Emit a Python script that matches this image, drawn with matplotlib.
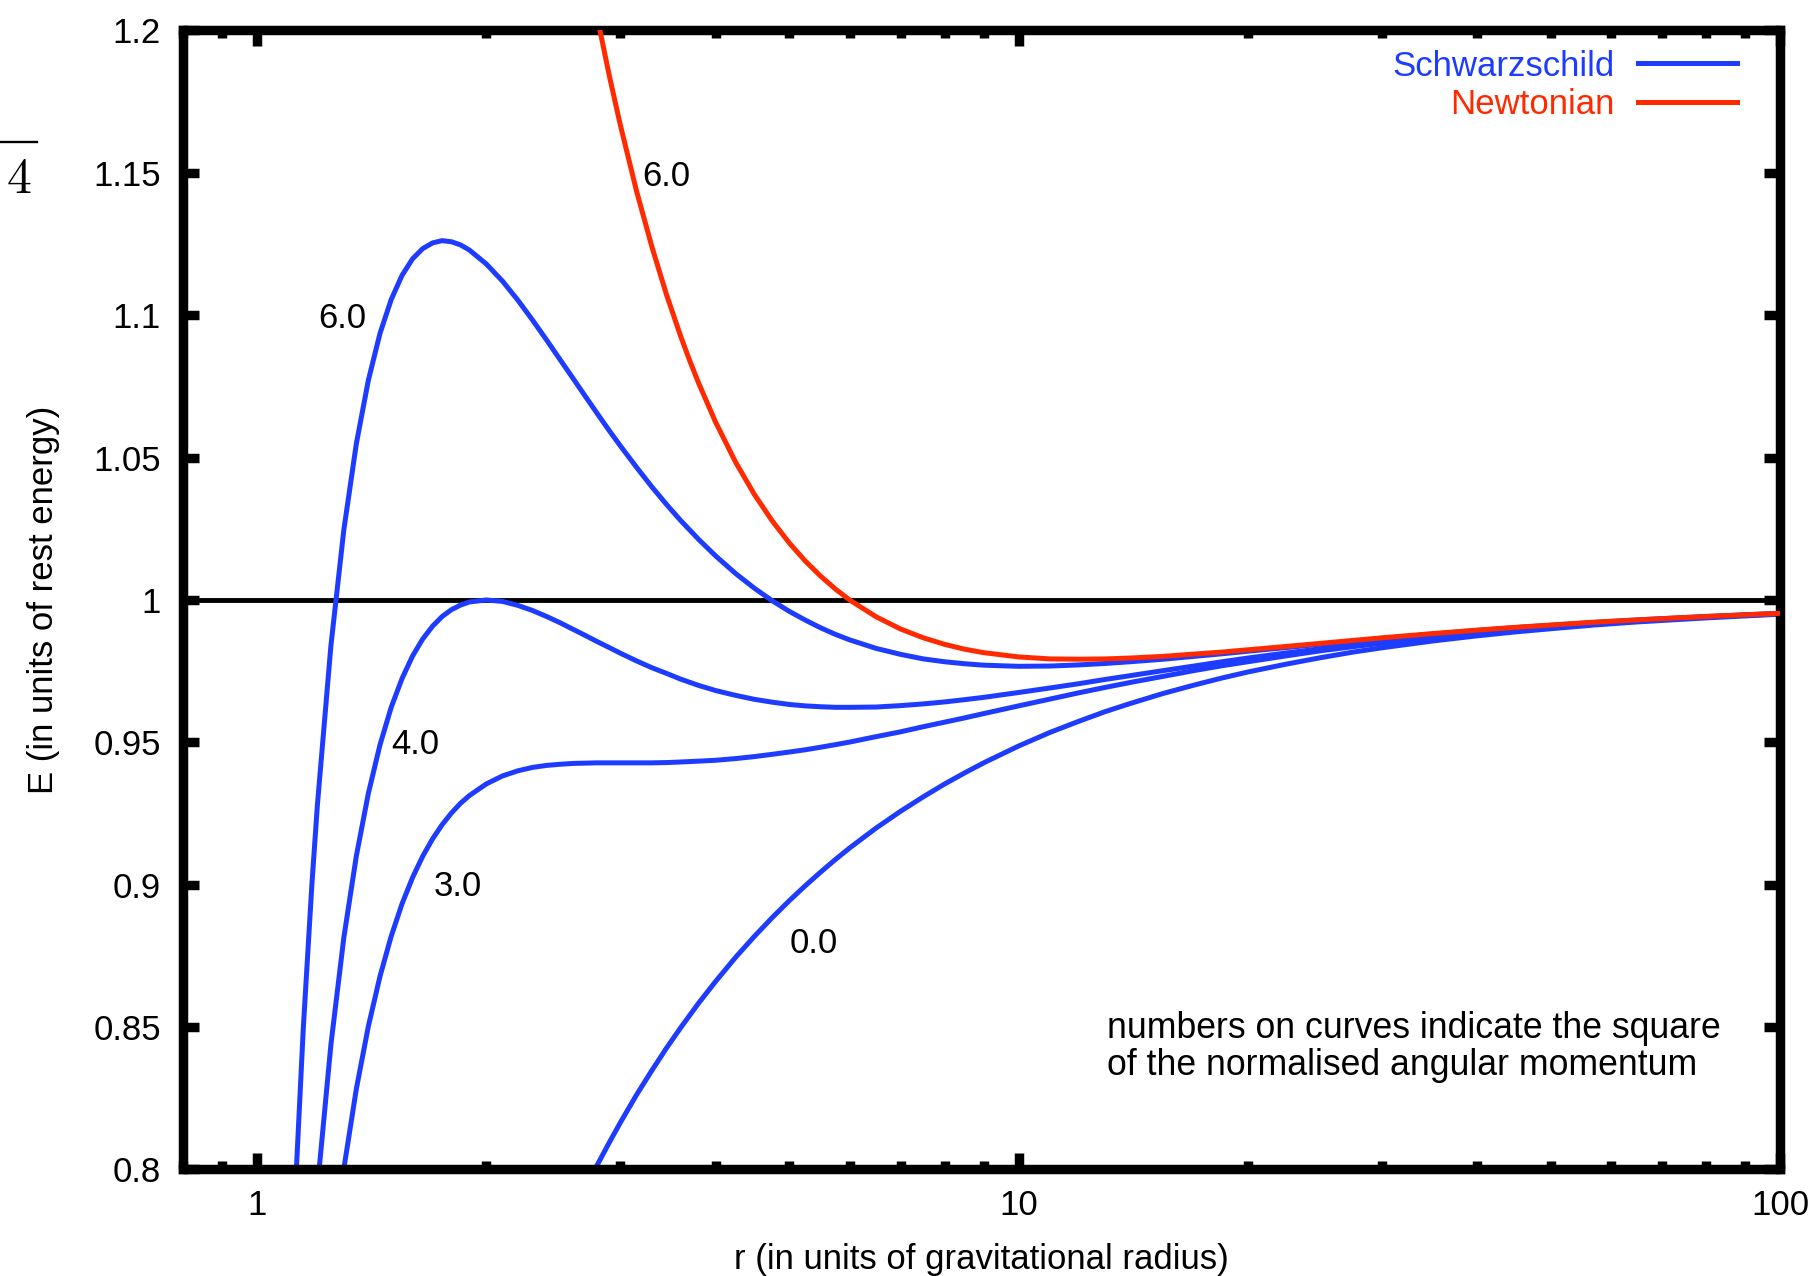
import matplotlib
matplotlib.use("Agg")
import matplotlib.pyplot as plt
from matplotlib.ticker import FixedLocator, LogLocator, NullFormatter, NullLocator, FuncFormatter
from matplotlib.lines import Line2D

plt.rcParams['font.family'] = ['Liberation Sans', 'DejaVu Sans']

# radius (gravitational radius units) and energy
r_schw = [1.1, 1.12, 1.15, 1.18, 1.2,
          1.25, 1.3, 1.35, 1.4, 1.45,
          1.5, 1.55, 1.6, 1.65, 1.7,
          1.75, 1.8, 1.85, 1.9, 2.0,
          2.1, 2.2, 2.3, 2.4, 2.5,
          2.6, 2.7, 2.8, 2.9, 3.0,
          3.15, 3.3, 3.45, 3.6, 3.8,
          4.0, 4.25, 4.5, 4.75, 5.0,
          5.25, 5.5, 5.75, 6.0, 6.5,
          7.0, 7.5, 8.0, 8.5, 9.0,
          10, 11, 12, 13, 14,
          15.5, 17, 18.5, 20, 22.5,
          25, 27.5, 30, 35, 40,
          45, 50, 57, 65, 72,
          80, 90, 100]
E_l6 = [0.7360, 0.7872, 0.8498, 0.8998, 0.9280,
        0.9839, 1.0247, 1.0549, 1.0772, 1.0936,
        1.1055, 1.1140, 1.1198, 1.1234, 1.1254,
        1.1262, 1.1258, 1.1247, 1.1229, 1.1180,
        1.1120, 1.1053, 1.0983, 1.0913, 1.0844,
        1.0778, 1.0714, 1.0653, 1.0595, 1.0541,
        1.0466, 1.0397, 1.0335, 1.0279, 1.0213,
        1.0155, 1.0093, 1.0041, 0.9997, 0.9960,
        0.9929, 0.9902, 0.9879, 0.9860, 0.9830,
        0.9809, 0.9793, 0.9783, 0.9776, 0.9771,
        0.9767, 0.9768, 0.9772, 0.9777, 0.9783,
        0.9792, 0.9802, 0.9811, 0.9820, 0.9833,
        0.9845, 0.9855, 0.9865, 0.9880, 0.9893,
        0.9903, 0.9911, 0.9921, 0.9930, 0.9936,
        0.9942, 0.9948, 0.9953]
E_l4 = [0.6256, 0.6699, 0.7245, 0.7685, 0.7935,
        0.8438, 0.8815, 0.9101, 0.9321, 0.9491,
        0.9623, 0.9724, 0.9803, 0.9863, 0.9908,
        0.9942, 0.9966, 0.9982, 0.9993, 1.0000,
        0.9995, 0.9981, 0.9963, 0.9942, 0.9920,
        0.9897, 0.9875, 0.9853, 0.9833, 0.9813,
        0.9786, 0.9762, 0.9742, 0.9722, 0.9700,
        0.9682, 0.9665, 0.9651, 0.9641, 0.9633,
        0.9628, 0.9625, 0.9623, 0.9623, 0.9624,
        0.9629, 0.9635, 0.9642, 0.9650, 0.9658,
        0.9675, 0.9691, 0.9706, 0.9721, 0.9734,
        0.9752, 0.9768, 0.9783, 0.9796, 0.9814,
        0.9829, 0.9842, 0.9854, 0.9872, 0.9887,
        0.9898, 0.9907, 0.9918, 0.9928, 0.9934,
        0.9940, 0.9947, 0.9952]
E_l3 = [0.5624, 0.6027, 0.6529, 0.6936, 0.7169,
        0.7642, 0.8003, 0.8283, 0.8503, 0.8678,
        0.8819, 0.8933, 0.9025, 0.9100, 0.9161,
        0.9211, 0.9252, 0.9286, 0.9313, 0.9354,
        0.9382, 0.9400, 0.9412, 0.9419, 0.9423,
        0.9426, 0.9427, 0.9428, 0.9428, 0.9428,
        0.9428, 0.9428, 0.9429, 0.9431, 0.9434,
        0.9437, 0.9443, 0.9450, 0.9458, 0.9466,
        0.9474, 0.9483, 0.9492, 0.9501, 0.9520,
        0.9537, 0.9555, 0.9571, 0.9586, 0.9601,
        0.9628, 0.9652, 0.9674, 0.9693, 0.9710,
        0.9732, 0.9752, 0.9769, 0.9783, 0.9804,
        0.9822, 0.9836, 0.9848, 0.9868, 0.9884,
        0.9896, 0.9905, 0.9917, 0.9926, 0.9933,
        0.9940, 0.9946, 0.9951]
E_l0 = [0.3015, 0.3273, 0.3612, 0.3905, 0.4082,
        0.4472, 0.4804, 0.5092, 0.5345, 0.5571,
        0.5774, 0.5957, 0.6124, 0.6277, 0.6417,
        0.6547, 0.6667, 0.6778, 0.6882, 0.7071,
        0.7237, 0.7385, 0.7518, 0.7638, 0.7746,
        0.7845, 0.7935, 0.8018, 0.8094, 0.8165,
        0.8262, 0.8348, 0.8427, 0.8498, 0.8584,
        0.8660, 0.8745, 0.8819, 0.8885, 0.8944,
        0.8997, 0.9045, 0.9089, 0.9129, 0.9199,
        0.9258, 0.9309, 0.9354, 0.9393, 0.9428,
        0.9487, 0.9535, 0.9574, 0.9608, 0.9636,
        0.9672, 0.9701, 0.9726, 0.9747, 0.9775,
        0.9798, 0.9817, 0.9832, 0.9856, 0.9874,
        0.9888, 0.9899, 0.9912, 0.9923, 0.9930,
        0.9937, 0.9944, 0.9950]

r_newt = [2.6, 2.7, 2.8, 2.9, 3.0,
          3.15, 3.3, 3.45, 3.6, 3.7,
          3.8, 4.0, 4.25, 4.5, 4.75,
          5.0, 5.25, 5.5, 5.75, 6.0,
          6.5, 7.0, 7.5, 8.0, 8.5,
          9.0, 10, 11, 12, 13,
          14, 15.5, 17, 18.5, 20,
          22.5, 25, 27.5, 30, 35,
          40, 45, 50, 57, 65,
          72, 80, 90, 100]
E_newt = [1.2515, 1.2263, 1.2041, 1.1843, 1.1667,
          1.1436, 1.1240, 1.1071, 1.0926, 1.0840,
          1.0762, 1.0625, 1.0484, 1.0370, 1.0277,
          1.0200, 1.0136, 1.0083, 1.0038, 1.0000,
          0.9941, 0.9898, 0.9867, 0.9844, 0.9827,
          0.9815, 0.9800, 0.9793, 0.9792, 0.9793,
          0.9796, 0.9802, 0.9810, 0.9817, 0.9825,
          0.9837, 0.9848, 0.9858, 0.9867, 0.9882,
          0.9894, 0.9904, 0.9912, 0.9922, 0.9930,
          0.9936, 0.9942, 0.9948, 0.9953]

y_ticks = [0.8, 0.85, 0.9, 0.95, 1.0, 1.05, 1.1, 1.15, 1.2]
x_ticks = [1, 10, 100]

BLUE = '#1e3cff'
RED = '#ff2a00'
FS = 25

fig = plt.figure(figsize=(18.15, 12.76), dpi=100)
ax = fig.add_axes([0.1010, 0.0835, 0.8797, 0.8926])

ax.axhline(1.0, color='black', lw=3.5, zorder=1)
for E in (E_l6, E_l4, E_l3, E_l0):
    ax.plot(r_schw, E, color=BLUE, lw=3.6, zorder=2)
ax.plot(r_newt, E_newt, color=RED, lw=3.6, zorder=3)

ax.set_xscale('log')
ax.set_xlim(0.8, 100)
ax.set_ylim(0.8, 1.2)

ax.xaxis.set_major_locator(FixedLocator(x_ticks))
ax.xaxis.set_major_formatter(FuncFormatter(lambda v, p: '%g' % v))
ax.xaxis.set_minor_locator(LogLocator(base=10, subs=range(2, 10)))
ax.xaxis.set_minor_formatter(NullFormatter())
ax.yaxis.set_major_locator(FixedLocator(y_ticks))
ax.yaxis.set_major_formatter(FuncFormatter(lambda v, p: '%g' % v))
ax.yaxis.set_minor_locator(NullLocator())

for s in ax.spines.values():
    s.set_linewidth(6.8)
ax.tick_params(which='both', direction='in', top=True, right=True, labelsize=FS, width=6.8)
ax.tick_params(which='major', length=11.5)
ax.tick_params(which='minor', length=5.8)
ax.tick_params(axis='y', pad=16)
ax.tick_params(axis='x', pad=14)

ax.set_xlabel('r (in units of gravitational radius)', fontsize=FS, labelpad=15)
ax.set_ylabel('E (in units of rest energy)', fontsize=FS, labelpad=24)

# curve labels
ax.text(3.45, 1.1488, '6.0', fontsize=FS, ha='center', va='center')
ax.text(1.295, 1.0990, '6.0', fontsize=FS, ha='center', va='center')
ax.text(1.615, 0.9493, '4.0', fontsize=FS, ha='center', va='center')
ax.text(1.834, 0.8992, '3.0', fontsize=FS, ha='center', va='center')
ax.text(5.39, 0.8792, '0.0', fontsize=FS, ha='center', va='center')
ax.text(13.07, 0.8430, 'numbers on curves indicate the square\nof the normalised angular momentum',
        fontsize=25.7, ha='left', va='center', linespacing=1.1)

handles = [Line2D([], [], color=BLUE, lw=3.6), Line2D([], [], color=RED, lw=3.6)]
leg = ax.legend(handles, ['Schwarzschild', 'Newtonian'], loc='upper right',
                bbox_to_anchor=(0.9731, 0.9833), frameon=False, fontsize=FS,
                markerfirst=False, handlelength=2.85, handletextpad=0.68,
                labelspacing=0.16, borderpad=0, borderaxespad=0)
leg.get_texts()[0].set_color(BLUE)
leg.get_texts()[1].set_color(RED)

# fragment of a neighbouring formula at the left edge
fig.text(32 / 1815, 1 - 193 / 1276, '4', fontsize=36, family='cmr10', ha='right', va='baseline')
fig.add_artist(Line2D([0, 37 / 1815], [1 - 142 / 1276, 1 - 142 / 1276], color='black', lw=1.7))

fig.savefig('out.png', dpi=100)
